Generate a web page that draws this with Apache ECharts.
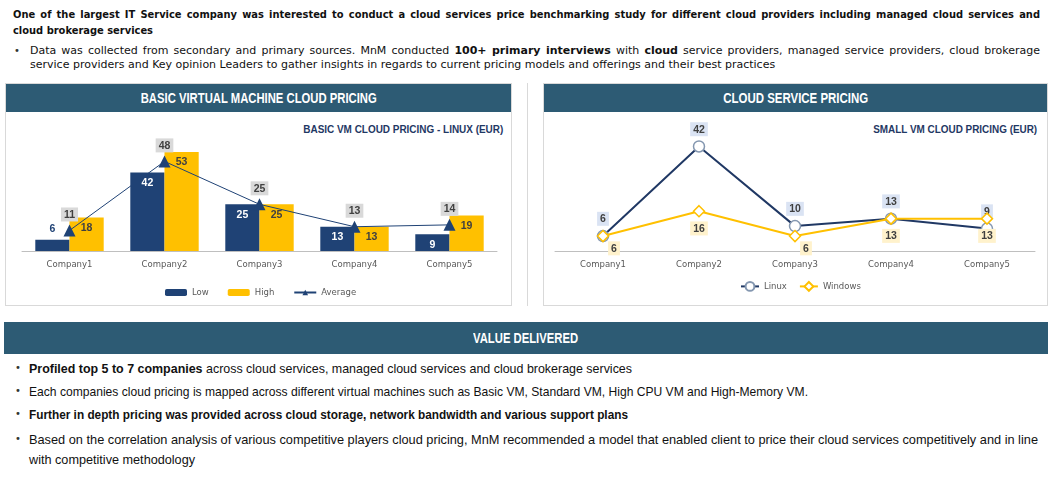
<!DOCTYPE html>
<html>
<head>
<meta charset="utf-8">
<script src="https://cdn.jsdelivr.net/npm/echarts@6/dist/echarts.min.js"></script>
<style>
html,body{margin:0;padding:0;width:1062px;height:478px;overflow:hidden;background:#fff;}
.a{position:absolute;}
.topb{font-family:'DejaVu Sans Condensed','DejaVu Sans',sans-serif;font-size:11px;font-weight:bold;color:#111;line-height:14px;}
.topr{font-family:'DejaVu Sans',sans-serif;font-size:11px;color:#111;line-height:14px;}
.j{text-align:justify;text-align-last:justify;}
.b{font-weight:bold;}
.panel{box-sizing:border-box;border:1px solid #d9d9d9;background:#fff;}
.hdr{background:#2d5b74;color:#fff;text-align:center;white-space:nowrap;}
.hdr span{display:inline-block;font-family:'Liberation Sans',Arial,sans-serif;font-weight:bold;font-size:14.5px;transform-origin:50% 50%;}
.ttl{white-space:nowrap;text-align:right;}
.ttl span{display:inline-block;font-family:'Liberation Sans',Arial,sans-serif;font-weight:bold;font-size:11.5px;color:#1f3864;transform-origin:100% 50%;}
.bl{position:absolute;left:29px;white-space:nowrap;font-family:'Liberation Sans',Arial,sans-serif;font-size:13px;color:#111;line-height:16px;transform-origin:0 50%;}
.dot{font-family:'DejaVu Sans',sans-serif;font-size:10px;color:#333;}
#chart{position:absolute;left:0;top:0;width:1062px;height:478px;z-index:5;}
</style>
</head>
<body>
<div class="a topb j" style="left:13px;top:8px;width:1027px;">One of the largest IT Service company was interested to conduct a cloud services price benchmarking study for different cloud providers including managed cloud services and</div>
<div class="a topb" style="left:13px;top:24px;width:1027px;">cloud brokerage services</div>
<div class="a dot" style="left:14px;top:45px;">•</div>
<div class="a topr j" style="left:30px;top:44px;width:1010px;">Data was collected from secondary and primary sources. MnM conducted <span class="b">100+ primary interviews</span> with <span class="b">cloud</span> service providers, managed service providers, cloud brokerage</div>
<div class="a topr" style="left:30px;top:58px;width:1010px;">service providers and Key opinion Leaders to gather insights in regards to current pricing models and offerings and their best practices</div>

<div class="a panel" style="left:5px;top:83px;width:507px;height:223px;"></div>
<div class="a hdr" style="left:6px;top:84px;width:505px;height:28px;line-height:28px;"><span data-w="236">BASIC VIRTUAL MACHINE CLOUD PRICING</span></div>
<div class="a" style="left:527px;top:83px;width:1px;height:223px;background:#d9d9d9;"></div>
<div class="a panel" style="left:543px;top:83px;width:505px;height:223px;"></div>
<div class="a hdr" style="left:544px;top:84px;width:503px;height:28px;line-height:28px;"><span data-w="145">CLOUD SERVICE PRICING</span></div>

<div class="a ttl" style="left:200px;top:121px;width:303px;height:14px;line-height:14px;"><span data-w="200">BASIC VM CLOUD PRICING - LINUX (EUR)</span></div>
<div class="a ttl" style="left:737px;top:121px;width:300px;height:14px;line-height:14px;"><span data-w="164">SMALL VM CLOUD PRICING (EUR)</span></div>

<div class="a hdr" style="left:4px;top:322px;width:1044px;height:32px;line-height:32px;"><span data-w="105">VALUE DELIVERED</span></div>

<div class="a dot" style="left:15px;top:362px;">•</div>
<div class="bl" data-w="603" style="top:361px;"><span class="b">Profiled top 5 to 7 companies</span> across cloud services, managed cloud services and cloud brokerage services</div>
<div class="a dot" style="left:15px;top:385px;">•</div>
<div class="bl" data-w="779" style="top:384px;">Each companies cloud pricing is mapped across different virtual machines such as Basic VM, Standard VM, High CPU VM and High-Memory VM.</div>
<div class="a dot" style="left:15px;top:408px;">•</div>
<div class="bl b" data-w="599" style="top:407px;">Further in depth pricing was provided across cloud storage, network bandwidth and various support plans</div>
<div class="a dot" style="left:15px;top:433px;">•</div>
<div class="bl" data-w="1009" style="top:432px;">Based on the correlation analysis of various competitive players cloud pricing, MnM recommended a model that enabled client to price their cloud services competitively and in line</div>
<div class="bl" data-w="166" style="top:452px;">with competitive methodology</div>

<div id="chart"></div>
<script>
// fit narrow-looking text to the widths seen in the reference
document.querySelectorAll('[data-w]').forEach(function (el) {
  var w = el.getBoundingClientRect().width;
  el.style.transform = 'scaleX(' + (+el.getAttribute('data-w') / w) + ')';
});

var categories = ['Company1', 'Company2', 'Company3', 'Company4', 'Company5'];
var lowValues = [6, 42, 25, 13, 9];
var highValues = [18, 53, 25, 13, 19];
var averageValues = [11, 48, 25, 13, 14];
var linuxValues = [6, 42, 10, 13, 9];
var windowsValues = [6, 16, 6, 13, 13];

var numFont = "'Liberation Sans', Arial, sans-serif";
var axFont = "'DejaVu Sans', sans-serif";

function xAx(gi) {
  return {
    gridIndex: gi, type: 'category', data: categories,
    axisLine: { lineStyle: { color: '#bfbfbf', width: 1 } },
    axisTick: { length: 4, lineStyle: { color: '#bfbfbf' } },
    axisLabel: { color: '#595959', fontSize: 8.5, fontFamily: axFont, margin: 9 }
  };
}
var boxLabel = { show: true, color: '#404040', fontWeight: 'bold', fontSize: 10.5, fontFamily: numFont, padding: [2, 3, 1, 3] };

var chart = echarts.init(document.getElementById('chart'), null, { renderer: 'canvas' });
chart.setOption({
  animation: false,
  backgroundColor: 'transparent',
  legend: [
    { data: ['Low', 'High', 'Average'], left: 160, top: 283, itemWidth: 22, itemHeight: 7, itemGap: 19,
      textStyle: { color: '#595959', fontSize: 8.5, fontFamily: axFont } },
    { data: ['Linux', 'Windows'], left: 735, top: 276, itemWidth: 18, itemHeight: 11, itemGap: 12,
      textStyle: { color: '#595959', fontSize: 8.5, fontFamily: axFont } }
  ],
  grid: [
    { left: 22, width: 475, top: 139, height: 112 },
    { left: 555, width: 480, top: 139, height: 112 }
  ],
  xAxis: [xAx(0), xAx(1)],
  yAxis: [
    { gridIndex: 0, type: 'value', min: 0, max: 60, show: false },
    { gridIndex: 1, type: 'value', min: 0, max: 45, show: false }
  ],
  series: [
    { name: 'Low', type: 'bar', xAxisIndex: 0, yAxisIndex: 0, barGap: '0%', barCategoryGap: '28%',
      itemStyle: { color: '#1f4275' },
      label: { show: true, position: 'insideTop', distance: 5, color: '#fff', fontWeight: 'bold', fontSize: 10.5, fontFamily: numFont },
      data: lowValues.map(function (v) { return v < 8 ? { value: v, label: { position: 'top', color: '#1f4275' } } : v; }) },
    { name: 'High', type: 'bar', xAxisIndex: 0, yAxisIndex: 0, barGap: '0%', barCategoryGap: '28%',
      itemStyle: { color: '#ffc000' },
      label: { show: true, position: 'insideTop', distance: 5, color: '#404040', fontWeight: 'bold', fontSize: 10.5, fontFamily: numFont },
      data: highValues },
    { name: 'Average', type: 'line', xAxisIndex: 0, yAxisIndex: 0, z: 5,
      symbol: 'triangle', symbolSize: 12,
      lineStyle: { color: '#1f4275', width: 1 }, itemStyle: { color: '#1f4275' },
      label: Object.assign({}, boxLabel, { position: 'top', distance: 3, backgroundColor: '#d9d9d9' }),
      data: averageValues },
    { name: 'Linux', type: 'line', xAxisIndex: 1, yAxisIndex: 1, z: 4,
      symbol: 'circle', symbolSize: 11,
      lineStyle: { color: '#203864', width: 2 },
      itemStyle: { color: '#fff', borderColor: '#8497b0', borderWidth: 1.5 },
      label: Object.assign({}, boxLabel, { position: 'top', distance: 4, backgroundColor: '#dae3f3' }),
      data: linuxValues },
    { name: 'Windows', type: 'line', xAxisIndex: 1, yAxisIndex: 1, z: 5,
      symbol: 'diamond', symbolSize: 11,
      lineStyle: { color: '#ffc000', width: 2 },
      itemStyle: { color: '#fff', borderColor: '#ffc000', borderWidth: 1.5 },
      label: Object.assign({}, boxLabel, { position: 'bottom', distance: 4, backgroundColor: '#fff2cc' }),
      data: windowsValues.map(function (v) { return v < 8 ? { value: v, label: { offset: [11, -5] } } : v; }) }
  ]
});
</script>
</body>
</html>
